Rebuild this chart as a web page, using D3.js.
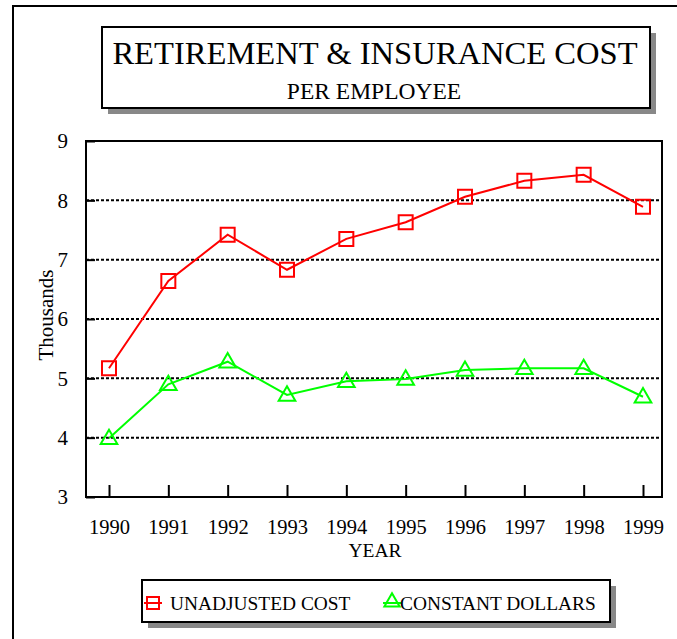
<!DOCTYPE html>
<html>
<head>
  <title>Retirement & Insurance Cost</title>
  <style type="text/css">
    body { margin: 0; background: #fff; }
    svg text { font-family: "Liberation Serif", "Times New Roman", serif; fill: #000; }
    .grid line { stroke: #000; stroke-width: 2px; stroke-dasharray: 3,2; }
  </style>
</head>
<body>
  <div id="chart"></div>
  <script type="text/javascript" src="https://cdnjs.cloudflare.com/ajax/libs/d3/7.8.5/d3.min.js"></script>
  <script type="text/javascript">
  var years = [1990, 1991, 1992, 1993, 1994, 1995, 1996, 1997, 1998, 1999];
  var unadjusted = [5.17, 6.64, 7.42, 6.83, 7.35, 7.63, 8.06, 8.33, 8.43, 7.89];
  var constant = [3.99, 4.90, 5.28, 4.72, 4.95, 4.99, 5.14, 5.17, 5.17, 4.69];
  var yTicks = [3, 4, 5, 6, 7, 8, 9];
  var gridTicks = [4, 5, 6, 7, 8];

  var cfg = { w: 677, h: 639, left: 86, right: 662, top: 141, bottom: 497 };

  var svg = d3.select('#chart').append('svg')
    .attr('width', cfg.w)
    .attr('height', cfg.h);

  // outer frame
  svg.append('path')
    .attr('d', 'M13,' + cfg.h + 'V6H' + cfg.w)
    .attr('fill', 'none')
    .attr('stroke', '#000')
    .attr('stroke-width', 2);

  var shadowBox = function(x, y, w, h) {
    svg.append('rect').attr('x', x + 6).attr('y', y + 6).attr('width', w).attr('height', h)
      .attr('fill', '#888');
    svg.append('rect').attr('x', x).attr('y', y).attr('width', w).attr('height', h)
      .attr('fill', '#fff').attr('stroke', '#000').attr('stroke-width', 2);
  }

  // title
  shadowBox(102, 27, 548, 81);
  svg.append('text').attr('x', 375).attr('y', 64).attr('text-anchor', 'middle')
    .style('font-size', '32.6px').text('RETIREMENT & INSURANCE COST');
  svg.append('text').attr('x', 374).attr('y', 99).attr('text-anchor', 'middle')
    .style('font-size', '23.5px').text('PER EMPLOYEE');

  var x = d3.scaleLinear().domain([1990, 1999]).range([109, 643]);
  var y = d3.scaleLinear().domain([3, 9]).range([cfg.bottom, cfg.top]);

  // gridlines
  svg.append('g').attr('class', 'grid')
    .selectAll('line').data(gridTicks).enter().append('line')
    .attr('x1', cfg.left).attr('x2', cfg.right)
    .attr('y1', function(d) { return y(d) }).attr('y2', function(d) { return y(d) });

  // plot frame
  svg.append('rect')
    .attr('x', cfg.left).attr('y', cfg.top)
    .attr('width', cfg.right - cfg.left).attr('height', cfg.bottom - cfg.top)
    .attr('fill', 'none').attr('stroke', '#000').attr('stroke-width', 2);

  // y axis
  var yAxis = d3.axisLeft(y).tickValues(yTicks).tickSize(-9).tickPadding(18).tickFormat(d3.format('d'));
  var yg = svg.append('g').attr('transform', 'translate(' + cfg.left + ',0)').call(yAxis);
  yg.select('.domain').remove();
  yg.selectAll('line').attr('stroke-width', 2);
  yg.selectAll('text').style('font-size', '21px').attr('font-family', null);

  // x axis
  var xAxis = d3.axisBottom(x).tickValues(years).tickSize(-12).tickPadding(22).tickFormat(d3.format('d'));
  var xg = svg.append('g').attr('transform', 'translate(0,' + cfg.bottom + ')').call(xAxis);
  xg.select('.domain').remove();
  xg.selectAll('line').attr('stroke-width', 2);
  xg.selectAll('text').style('font-size', '20.5px').attr('font-family', null);

  svg.append('text').attr('x', 375).attr('y', 557).attr('text-anchor', 'middle')
    .style('font-size', '19.5px').text('YEAR');
  svg.append('text').attr('transform', 'translate(53,315) rotate(-90)').attr('text-anchor', 'middle')
    .style('font-size', '21px').text('Thousands');

  var line = d3.line()
    .x(function(d, i) { return x(years[i]) })
    .y(function(d) { return y(d) });

  var square = d3.symbol().type(d3.symbolSquare).size(196);
  var triangle = d3.symbol().type(d3.symbolTriangle).size(120);

  var series = [
    { name: 'UNADJUSTED COST', values: unadjusted, color: '#ff0000', sym: square, dy: 0 },
    { name: 'CONSTANT DOLLARS', values: constant, color: '#00ff00', sym: triangle, dy: 1 }
  ];

  series.forEach(function(s) {
    svg.append('path').datum(s.values)
      .attr('d', line).attr('fill', 'none')
      .attr('stroke', s.color).attr('stroke-width', 2);
    svg.selectAll(null).data(s.values).enter().append('path')
      .attr('d', s.sym)
      .attr('transform', function(d, i) { return 'translate(' + x(years[i]) + ',' + (y(d) + s.dy) + ')' })
      .attr('fill', 'none').attr('stroke', s.color).attr('stroke-width', 2);
  });

  // legend
  shadowBox(142, 580, 468, 42);
  var legendX = [153, 392];
  var textX = [170, 400];
  series.forEach(function(s, i) {
    svg.append('line').attr('x1', legendX[i] - 9).attr('x2', legendX[i] + 9)
      .attr('y1', 603).attr('y2', 603).attr('stroke', s.color).attr('stroke-width', 2);
    svg.append('path').attr('d', s.sym.size(i == 0 ? 144 : 100)())
      .attr('transform', 'translate(' + legendX[i] + ',' + (603 - i * 1) + ')')
      .attr('fill', 'none').attr('stroke', s.color).attr('stroke-width', 2);
    svg.append('text').attr('x', textX[i]).attr('y', 610)
      .style('font-size', '19.4px').text(s.name);
  });
  </script>
</body>
</html>
